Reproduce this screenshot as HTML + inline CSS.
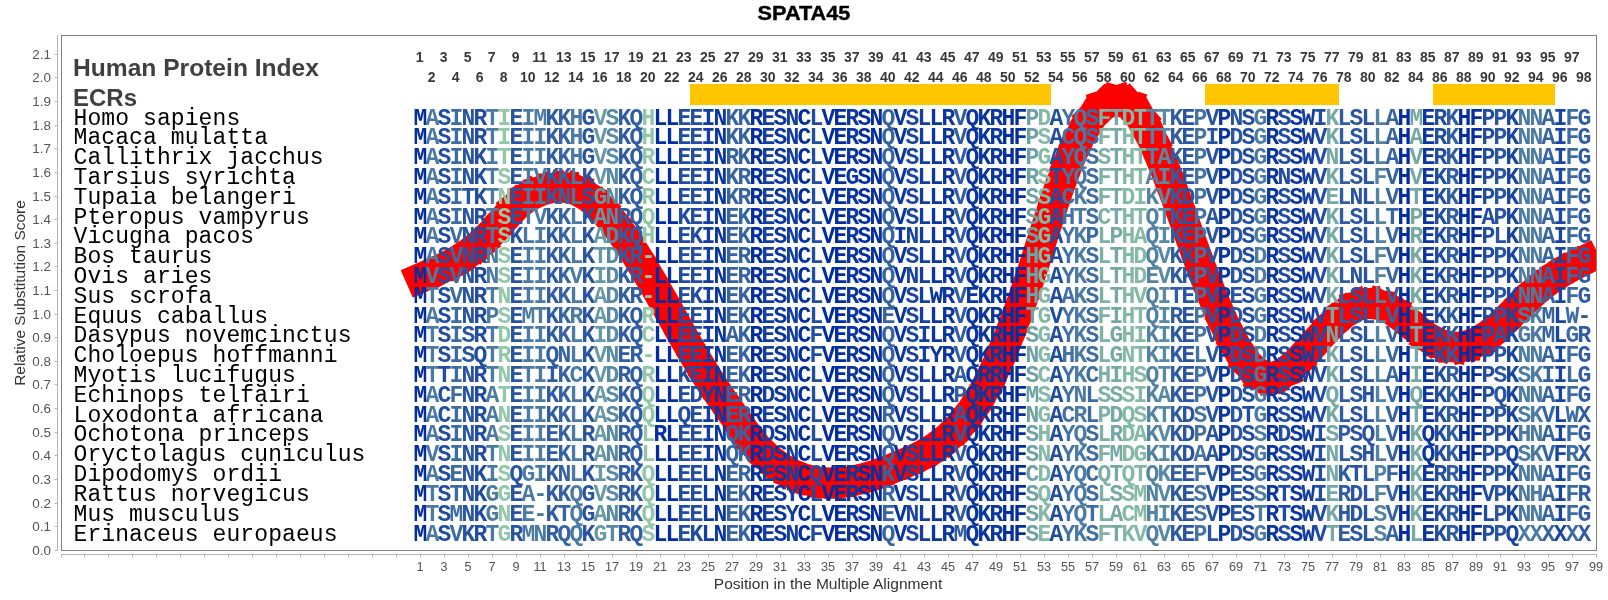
<!DOCTYPE html>
<html><head><meta charset="utf-8"><title>SPATA45</title>
<style>
html,body{margin:0;padding:0;background:#fff}
body{width:1608px;height:600px;position:relative;overflow:hidden;font-family:"Liberation Sans",sans-serif}
.a{position:absolute;white-space:pre}
#L{position:absolute;left:0;top:0;width:1608px;height:600px;will-change:transform}
#title{left:703.5px;width:200px;text-align:center;top:1px;font-weight:bold;font-size:20px;line-height:24px;color:#000;transform:scaleX(1.085);-webkit-text-stroke:0.4px #000}
.yt{left:20.5px;width:30px;text-align:right;font-size:12px;line-height:14px;color:#555;transform-origin:100% 50%;transform:scaleX(1.12)}
.xt{width:24px;text-align:center;font-size:12px;line-height:14px;color:#555;top:559.5px;transform:scaleX(1.06)}
.n{width:24px;text-align:center;font-size:14px;font-weight:bold;line-height:14px;color:#383838}
.sp{left:73.5px;font-family:"Liberation Mono",monospace;font-size:23px;line-height:20px;color:#000;letter-spacing:0.1px}
.c{width:12px;text-align:center;font-family:"Liberation Mono",monospace;font-weight:bold;font-size:23px;line-height:20px;top:109.00px}
.c b{display:block;width:40px;margin-left:-14px;text-align:center;height:20px}
.sp b{display:block;height:20px;font-weight:normal}
.c b:nth-child(-5n+16),.sp b:nth-child(-5n+16){height:19px}
.hd{left:73px;font-weight:bold;font-size:24px;line-height:28px;color:#404040}
.ecr{background:#ffc600;top:84px;height:20.7px}
</style></head><body>

<div id="L">
<div id="title" class="a">SPATA45</div>
<div class="a" style="left:-80px;top:285px;width:200px;height:16px;text-align:center;font-size:14px;line-height:16px;color:#333;transform:rotate(-90deg) scaleX(1.105)">Relative Substitution Score</div>
<svg class="a" style="left:0;top:0" width="1608" height="600">
<path d="M57.5 35V551" stroke="#b4b4b4" fill="none"/>
<path d="M54.5 550.5H57.5M54.5 526.5H57.5M54.5 503.5H57.5M54.5 479.5H57.5M54.5 455.5H57.5M54.5 432.5H57.5M54.5 408.5H57.5M54.5 384.5H57.5M54.5 361.5H57.5M54.5 337.5H57.5M54.5 314.5H57.5M54.5 290.5H57.5M54.5 266.5H57.5M54.5 243.5H57.5M54.5 219.5H57.5M54.5 196.5H57.5M54.5 172.5H57.5M54.5 148.5H57.5M54.5 125.5H57.5M54.5 101.5H57.5M54.5 77.5H57.5M54.5 54.5H57.5" stroke="#b4b4b4" fill="none"/>
<path d="M61 554.5H1597" stroke="#b4b4b4" fill="none"/>
<path d="M61.5 554.5V557.5M84.5 554.5V557.5M108.5 554.5V557.5M132.5 554.5V557.5M156.5 554.5V557.5M180.5 554.5V557.5M204.5 554.5V557.5M228.5 554.5V557.5M252.5 554.5V557.5M276.5 554.5V557.5M300.5 554.5V557.5M324.5 554.5V557.5M348.5 554.5V557.5M372.5 554.5V557.5M396.5 554.5V557.5M420.5 554.5V557.5M444.5 554.5V557.5M468.5 554.5V557.5M492.5 554.5V557.5M516.5 554.5V557.5M540.5 554.5V557.5M564.5 554.5V557.5M588.5 554.5V557.5M612.5 554.5V557.5M636.5 554.5V557.5M660.5 554.5V557.5M684.5 554.5V557.5M708.5 554.5V557.5M732.5 554.5V557.5M756.5 554.5V557.5M780.5 554.5V557.5M804.5 554.5V557.5M828.5 554.5V557.5M852.5 554.5V557.5M876.5 554.5V557.5M900.5 554.5V557.5M924.5 554.5V557.5M948.5 554.5V557.5M972.5 554.5V557.5M996.5 554.5V557.5M1020.5 554.5V557.5M1044.5 554.5V557.5M1068.5 554.5V557.5M1092.5 554.5V557.5M1116.5 554.5V557.5M1140.5 554.5V557.5M1164.5 554.5V557.5M1188.5 554.5V557.5M1212.5 554.5V557.5M1236.5 554.5V557.5M1260.5 554.5V557.5M1284.5 554.5V557.5M1308.5 554.5V557.5M1332.5 554.5V557.5M1356.5 554.5V557.5M1380.5 554.5V557.5M1404.5 554.5V557.5M1428.5 554.5V557.5M1452.5 554.5V557.5M1476.5 554.5V557.5M1500.5 554.5V557.5M1524.5 554.5V557.5M1548.5 554.5V557.5M1572.5 554.5V557.5M1596.5 554.5V557.5" stroke="#b4b4b4" fill="none"/>
<clipPath id="cp"><rect x="61" y="35" width="1536" height="516"/></clipPath>
<path clip-path="url(#cp)" d="M420.5 278.0L432.5 272.7M432.5 272.7L444.5 267.3M444.5 267.3L456.5 261.0M456.5 261.0L468.5 253.2M468.5 253.2L480.5 243.6M480.5 243.6L492.5 231.9M492.5 231.9L504.5 218.5M504.5 218.5L516.5 205.8M516.5 205.8L528.5 196.5M528.5 196.5L540.5 191.0M540.5 191.0L552.5 188.0M552.5 188.0L564.5 187.5M564.5 187.5L576.5 190.3M576.5 190.3L588.5 197.1M588.5 197.1L600.5 207.6M600.5 207.6L612.5 221.2M612.5 221.2L624.5 237.4M624.5 237.4L636.5 255.6M636.5 255.6L648.5 275.5M648.5 275.5L660.5 296.3M660.5 296.3L672.5 317.5M672.5 317.5L684.5 338.8M684.5 338.8L696.5 359.4M696.5 359.4L708.5 378.8M708.5 378.8L720.5 396.8M720.5 396.8L732.5 413.8M732.5 413.8L744.5 430.9M744.5 430.9L756.5 446.4M756.5 446.4L768.5 458.2M768.5 458.2L780.5 467.2M780.5 467.2L792.5 474.0M792.5 474.0L804.5 478.7M804.5 478.7L816.5 481.5M816.5 481.5L828.5 482.6M828.5 482.6L840.5 482.3M840.5 482.3L852.5 480.7M852.5 480.7L864.5 477.9M864.5 477.9L876.5 474.3M876.5 474.3L888.5 469.9M888.5 469.9L900.5 465.0M900.5 465.0L912.5 459.8M912.5 459.8L924.5 453.8M924.5 453.8L936.5 446.4M936.5 446.4L948.5 437.0M948.5 437.0L960.5 424.9M960.5 424.9L972.5 409.3M972.5 409.3L984.5 389.7M984.5 389.7L996.5 365.6M996.5 365.6L1008.5 337.3M1008.5 337.3L1020.5 305.2M1020.5 305.2L1032.5 269.7M1032.5 269.7L1044.5 232.2M1044.5 232.2L1056.5 195.5M1056.5 195.5L1068.5 162.6M1068.5 162.6L1080.5 135.8M1080.5 135.8L1092.5 116.4M1092.5 116.4L1104.5 104.6M1104.5 104.6L1116.5 100.7M1116.5 100.7L1128.5 104.4M1128.5 104.4L1140.5 117.8M1140.5 117.8L1152.5 139.8M1152.5 139.8L1164.5 167.9M1164.5 167.9L1176.5 199.6M1176.5 199.6L1188.5 232.8M1188.5 232.8L1200.5 265.6M1200.5 265.6L1212.5 296.4M1212.5 296.4L1224.5 324.0M1224.5 324.0L1236.5 347.0M1236.5 347.0L1248.5 364.4M1248.5 364.4L1260.5 374.8M1260.5 374.8L1272.5 377.3M1272.5 377.3L1284.5 372.6M1284.5 372.6L1296.5 362.6M1296.5 362.6L1308.5 349.9M1308.5 349.9L1320.5 336.4M1320.5 336.4L1332.5 323.8M1332.5 323.8L1344.5 313.4M1344.5 313.4L1356.5 306.3M1356.5 306.3L1368.5 303.7M1368.5 303.7L1380.5 305.2M1380.5 305.2L1392.5 310.6M1392.5 310.6L1404.5 319.2M1404.5 319.2L1416.5 328.9M1416.5 328.9L1428.5 337.9M1428.5 337.9L1440.5 344.1M1440.5 344.1L1452.5 346.9M1452.5 346.9L1464.5 346.3M1464.5 346.3L1476.5 342.3M1476.5 342.3L1488.5 334.8M1488.5 334.8L1500.5 324.7M1500.5 324.7L1512.5 313.2M1512.5 313.2L1524.5 301.4M1524.5 301.4L1536.5 290.4M1536.5 290.4L1548.5 281.0M1548.5 281.0L1560.5 273.0M1560.5 273.0L1572.5 266.2M1572.5 266.2L1584.5 260.3" stroke="#ff0000" stroke-width="30" fill="none" stroke-linecap="square" stroke-linejoin="miter"/>
<rect x="61.5" y="35.5" width="1535" height="515" fill="none" stroke="#808080"/>
</svg>
<div class="a yt" style="top:544.0px">0.0</div>
<div class="a yt" style="top:520.0px">0.1</div>
<div class="a yt" style="top:497.0px">0.2</div>
<div class="a yt" style="top:473.0px">0.3</div>
<div class="a yt" style="top:449.0px">0.4</div>
<div class="a yt" style="top:426.0px">0.5</div>
<div class="a yt" style="top:402.0px">0.6</div>
<div class="a yt" style="top:378.0px">0.7</div>
<div class="a yt" style="top:355.0px">0.8</div>
<div class="a yt" style="top:331.0px">0.9</div>
<div class="a yt" style="top:308.0px">1.0</div>
<div class="a yt" style="top:284.0px">1.1</div>
<div class="a yt" style="top:260.0px">1.2</div>
<div class="a yt" style="top:237.0px">1.3</div>
<div class="a yt" style="top:213.0px">1.4</div>
<div class="a yt" style="top:190.0px">1.5</div>
<div class="a yt" style="top:166.0px">1.6</div>
<div class="a yt" style="top:142.0px">1.7</div>
<div class="a yt" style="top:119.0px">1.8</div>
<div class="a yt" style="top:95.0px">1.9</div>
<div class="a yt" style="top:71.0px">2.0</div>
<div class="a yt" style="top:48.0px">2.1</div>
<div class="a xt" style="left:407.5px">1</div>
<div class="a xt" style="left:431.5px">3</div>
<div class="a xt" style="left:455.5px">5</div>
<div class="a xt" style="left:479.5px">7</div>
<div class="a xt" style="left:503.5px">9</div>
<div class="a xt" style="left:527.5px">11</div>
<div class="a xt" style="left:551.5px">13</div>
<div class="a xt" style="left:575.5px">15</div>
<div class="a xt" style="left:599.5px">17</div>
<div class="a xt" style="left:623.5px">19</div>
<div class="a xt" style="left:647.5px">21</div>
<div class="a xt" style="left:671.5px">23</div>
<div class="a xt" style="left:695.5px">25</div>
<div class="a xt" style="left:719.5px">27</div>
<div class="a xt" style="left:743.5px">29</div>
<div class="a xt" style="left:767.5px">31</div>
<div class="a xt" style="left:791.5px">33</div>
<div class="a xt" style="left:815.5px">35</div>
<div class="a xt" style="left:839.5px">37</div>
<div class="a xt" style="left:863.5px">39</div>
<div class="a xt" style="left:887.5px">41</div>
<div class="a xt" style="left:911.5px">43</div>
<div class="a xt" style="left:935.5px">45</div>
<div class="a xt" style="left:959.5px">47</div>
<div class="a xt" style="left:983.5px">49</div>
<div class="a xt" style="left:1007.5px">51</div>
<div class="a xt" style="left:1031.5px">53</div>
<div class="a xt" style="left:1055.5px">55</div>
<div class="a xt" style="left:1079.5px">57</div>
<div class="a xt" style="left:1103.5px">59</div>
<div class="a xt" style="left:1127.5px">61</div>
<div class="a xt" style="left:1151.5px">63</div>
<div class="a xt" style="left:1175.5px">65</div>
<div class="a xt" style="left:1199.5px">67</div>
<div class="a xt" style="left:1223.5px">69</div>
<div class="a xt" style="left:1247.5px">71</div>
<div class="a xt" style="left:1271.5px">73</div>
<div class="a xt" style="left:1295.5px">75</div>
<div class="a xt" style="left:1319.5px">77</div>
<div class="a xt" style="left:1343.5px">79</div>
<div class="a xt" style="left:1367.5px">81</div>
<div class="a xt" style="left:1391.5px">83</div>
<div class="a xt" style="left:1415.5px">85</div>
<div class="a xt" style="left:1439.5px">87</div>
<div class="a xt" style="left:1463.5px">89</div>
<div class="a xt" style="left:1487.5px">91</div>
<div class="a xt" style="left:1511.5px">93</div>
<div class="a xt" style="left:1535.5px">95</div>
<div class="a xt" style="left:1559.5px">97</div>
<div class="a xt" style="left:1583.5px">99</div>
<div class="a" style="left:627.8px;width:400px;text-align:center;top:576px;font-size:14px;line-height:16px;color:#333;transform:scaleX(1.112)">Position in the Multiple Alignment</div>
<div class="a hd" style="top:54.2px;font-size:24.6px">Human Protein Index</div>
<div class="a hd" style="top:84.2px">ECRs</div>
<div class="a n" style="left:407.7px;top:50px">1</div>
<div class="a n" style="left:419.7px;top:70px">2</div>
<div class="a n" style="left:431.7px;top:50px">3</div>
<div class="a n" style="left:443.7px;top:70px">4</div>
<div class="a n" style="left:455.7px;top:50px">5</div>
<div class="a n" style="left:467.7px;top:70px">6</div>
<div class="a n" style="left:479.7px;top:50px">7</div>
<div class="a n" style="left:491.7px;top:70px">8</div>
<div class="a n" style="left:503.7px;top:50px">9</div>
<div class="a n" style="left:515.7px;top:70px">10</div>
<div class="a n" style="left:527.7px;top:50px">11</div>
<div class="a n" style="left:539.7px;top:70px">12</div>
<div class="a n" style="left:551.7px;top:50px">13</div>
<div class="a n" style="left:563.7px;top:70px">14</div>
<div class="a n" style="left:575.7px;top:50px">15</div>
<div class="a n" style="left:587.7px;top:70px">16</div>
<div class="a n" style="left:599.7px;top:50px">17</div>
<div class="a n" style="left:611.7px;top:70px">18</div>
<div class="a n" style="left:623.7px;top:50px">19</div>
<div class="a n" style="left:635.7px;top:70px">20</div>
<div class="a n" style="left:647.7px;top:50px">21</div>
<div class="a n" style="left:659.7px;top:70px">22</div>
<div class="a n" style="left:671.7px;top:50px">23</div>
<div class="a n" style="left:683.7px;top:70px">24</div>
<div class="a n" style="left:695.7px;top:50px">25</div>
<div class="a n" style="left:707.7px;top:70px">26</div>
<div class="a n" style="left:719.7px;top:50px">27</div>
<div class="a n" style="left:731.7px;top:70px">28</div>
<div class="a n" style="left:743.7px;top:50px">29</div>
<div class="a n" style="left:755.7px;top:70px">30</div>
<div class="a n" style="left:767.7px;top:50px">31</div>
<div class="a n" style="left:779.7px;top:70px">32</div>
<div class="a n" style="left:791.7px;top:50px">33</div>
<div class="a n" style="left:803.7px;top:70px">34</div>
<div class="a n" style="left:815.7px;top:50px">35</div>
<div class="a n" style="left:827.7px;top:70px">36</div>
<div class="a n" style="left:839.7px;top:50px">37</div>
<div class="a n" style="left:851.7px;top:70px">38</div>
<div class="a n" style="left:863.7px;top:50px">39</div>
<div class="a n" style="left:875.7px;top:70px">40</div>
<div class="a n" style="left:887.7px;top:50px">41</div>
<div class="a n" style="left:899.7px;top:70px">42</div>
<div class="a n" style="left:911.7px;top:50px">43</div>
<div class="a n" style="left:923.7px;top:70px">44</div>
<div class="a n" style="left:935.7px;top:50px">45</div>
<div class="a n" style="left:947.7px;top:70px">46</div>
<div class="a n" style="left:959.7px;top:50px">47</div>
<div class="a n" style="left:971.7px;top:70px">48</div>
<div class="a n" style="left:983.7px;top:50px">49</div>
<div class="a n" style="left:995.7px;top:70px">50</div>
<div class="a n" style="left:1007.7px;top:50px">51</div>
<div class="a n" style="left:1019.7px;top:70px">52</div>
<div class="a n" style="left:1031.7px;top:50px">53</div>
<div class="a n" style="left:1043.7px;top:70px">54</div>
<div class="a n" style="left:1055.7px;top:50px">55</div>
<div class="a n" style="left:1067.7px;top:70px">56</div>
<div class="a n" style="left:1079.7px;top:50px">57</div>
<div class="a n" style="left:1091.7px;top:70px">58</div>
<div class="a n" style="left:1103.7px;top:50px">59</div>
<div class="a n" style="left:1115.7px;top:70px">60</div>
<div class="a n" style="left:1127.7px;top:50px">61</div>
<div class="a n" style="left:1139.7px;top:70px">62</div>
<div class="a n" style="left:1151.7px;top:50px">63</div>
<div class="a n" style="left:1163.7px;top:70px">64</div>
<div class="a n" style="left:1175.7px;top:50px">65</div>
<div class="a n" style="left:1187.7px;top:70px">66</div>
<div class="a n" style="left:1199.7px;top:50px">67</div>
<div class="a n" style="left:1211.7px;top:70px">68</div>
<div class="a n" style="left:1223.7px;top:50px">69</div>
<div class="a n" style="left:1235.7px;top:70px">70</div>
<div class="a n" style="left:1247.7px;top:50px">71</div>
<div class="a n" style="left:1259.7px;top:70px">72</div>
<div class="a n" style="left:1271.7px;top:50px">73</div>
<div class="a n" style="left:1283.7px;top:70px">74</div>
<div class="a n" style="left:1295.7px;top:50px">75</div>
<div class="a n" style="left:1307.7px;top:70px">76</div>
<div class="a n" style="left:1319.7px;top:50px">77</div>
<div class="a n" style="left:1331.7px;top:70px">78</div>
<div class="a n" style="left:1343.7px;top:50px">79</div>
<div class="a n" style="left:1355.7px;top:70px">80</div>
<div class="a n" style="left:1367.7px;top:50px">81</div>
<div class="a n" style="left:1379.7px;top:70px">82</div>
<div class="a n" style="left:1391.7px;top:50px">83</div>
<div class="a n" style="left:1403.7px;top:70px">84</div>
<div class="a n" style="left:1415.7px;top:50px">85</div>
<div class="a n" style="left:1427.7px;top:70px">86</div>
<div class="a n" style="left:1439.7px;top:50px">87</div>
<div class="a n" style="left:1451.7px;top:70px">88</div>
<div class="a n" style="left:1463.7px;top:50px">89</div>
<div class="a n" style="left:1475.7px;top:70px">90</div>
<div class="a n" style="left:1487.7px;top:50px">91</div>
<div class="a n" style="left:1499.7px;top:70px">92</div>
<div class="a n" style="left:1511.7px;top:50px">93</div>
<div class="a n" style="left:1523.7px;top:70px">94</div>
<div class="a n" style="left:1535.7px;top:50px">95</div>
<div class="a n" style="left:1547.7px;top:70px">96</div>
<div class="a n" style="left:1559.7px;top:50px">97</div>
<div class="a n" style="left:1571.7px;top:70px">98</div>
<div class="a ecr" style="left:690px;width:361px"></div>
<div class="a ecr" style="left:1205px;width:134px"></div>
<div class="a ecr" style="left:1433px;width:122px"></div>
<div class="a sp" style="top:109.00px"><b>Homo sapiens</b><b>Macaca mulatta</b><b>Callithrix jacchus</b><b>Tarsius syrichta</b><b>Tupaia belangeri</b><b>Pteropus vampyrus</b><b>Vicugna pacos</b><b>Bos taurus</b><b>Ovis aries</b><b>Sus scrofa</b><b>Equus caballus</b><b>Dasypus novemcinctus</b><b>Choloepus hoffmanni</b><b>Myotis lucifugus</b><b>Echinops telfairi</b><b>Loxodonta africana</b><b>Ochotona princeps</b><b>Oryctolagus cuniculus</b><b>Dipodomys ordii</b><b>Rattus norvegicus</b><b>Mus musculus</b><b>Erinaceus europaeus</b></div>
<div class="a c" style="left:414.5px;color:#042ea0"><b>M</b><b>M</b><b>M</b><b>M</b><b>M</b><b>M</b><b>M</b><b>M</b><b>M</b><b>M</b><b>M</b><b>M</b><b>M</b><b>M</b><b>M</b><b>M</b><b>M</b><b>M</b><b>M</b><b>M</b><b>M</b><b>M</b></div>
<div class="a c" style="left:426.5px;color:#4b7ba3"><b>A</b><b>A</b><b>A</b><b>A</b><b>A</b><b>A</b><b>A</b><b>A</b><b>V</b><b>T</b><b>A</b><b>T</b><b>T</b><b>T</b><b>A</b><b>A</b><b>A</b><b>V</b><b>A</b><b>T</b><b>T</b><b>A</b></div>
<div class="a c" style="left:438.5px;color:#204da1"><b>S</b><b>S</b><b>S</b><b>S</b><b>S</b><b>S</b><b>S</b><b>S</b><b>S</b><b>S</b><b>S</b><b>S</b><b>S</b><b>T</b><b>C</b><b>C</b><b>S</b><b>S</b><b>S</b><b>S</b><b>S</b><b>S</b></div>
<div class="a c" style="left:450.5px;color:#3d6ca2"><b>I</b><b>I</b><b>I</b><b>I</b><b>I</b><b>I</b><b>V</b><b>V</b><b>V</b><b>V</b><b>I</b><b>I</b><b>I</b><b>I</b><b>F</b><b>I</b><b>I</b><b>I</b><b>E</b><b>T</b><b>M</b><b>V</b></div>
<div class="a c" style="left:462.5px;color:#2854a2"><b>N</b><b>N</b><b>N</b><b>N</b><b>T</b><b>N</b><b>N</b><b>N</b><b>N</b><b>N</b><b>N</b><b>S</b><b>S</b><b>N</b><b>N</b><b>N</b><b>N</b><b>N</b><b>N</b><b>N</b><b>N</b><b>K</b></div>
<div class="a c" style="left:474.5px;color:#204da1"><b>R</b><b>R</b><b>K</b><b>K</b><b>K</b><b>R</b><b>R</b><b>R</b><b>R</b><b>R</b><b>R</b><b>R</b><b>Q</b><b>R</b><b>R</b><b>R</b><b>R</b><b>R</b><b>K</b><b>K</b><b>K</b><b>R</b></div>
<div class="a c" style="left:486.5px;color:#4b7ba3"><b>T</b><b>T</b><b>I</b><b>T</b><b>T</b><b>T</b><b>T</b><b>N</b><b>N</b><b>T</b><b>P</b><b>T</b><b>T</b><b>T</b><b>A</b><b>A</b><b>A</b><b>T</b><b>I</b><b>G</b><b>G</b><b>T</b></div>
<div class="a c" style="left:498.5px;color:#92c8a6"><b>I</b><b>I</b><b>T</b><b>S</b><b>N</b><b>S</b><b>S</b><b>S</b><b>S</b><b>N</b><b>S</b><b>D</b><b>R</b><b>N</b><b>T</b><b>N</b><b>S</b><b>N</b><b>S</b><b>G</b><b>N</b><b>G</b></div>
<div class="a c" style="left:510.5px;color:#2854a2"><b>E</b><b>E</b><b>E</b><b>E</b><b>E</b><b>E</b><b>K</b><b>E</b><b>E</b><b>E</b><b>E</b><b>E</b><b>E</b><b>E</b><b>E</b><b>E</b><b>E</b><b>E</b><b>Q</b><b>E</b><b>E</b><b>R</b></div>
<div class="a c" style="left:522.5px;color:#4b7ba3"><b>I</b><b>I</b><b>I</b><b>I</b><b>I</b><b>T</b><b>L</b><b>I</b><b>I</b><b>I</b><b>M</b><b>I</b><b>I</b><b>T</b><b>I</b><b>I</b><b>I</b><b>I</b><b>G</b><b>A</b><b>E</b><b>M</b></div>
<div class="a c" style="left:534.5px;color:#4b7ba3"><b>M</b><b>I</b><b>I</b><b>V</b><b>I</b><b>V</b><b>I</b><b>I</b><b>I</b><b>I</b><b>T</b><b>I</b><b>I</b><b>I</b><b>I</b><b>I</b><b>I</b><b>I</b><b>I</b><b>-</b><b>-</b><b>N</b></div>
<div class="a c" style="left:546.5px;color:#2f5ca2"><b>K</b><b>K</b><b>K</b><b>K</b><b>K</b><b>K</b><b>K</b><b>K</b><b>K</b><b>K</b><b>K</b><b>K</b><b>Q</b><b>I</b><b>K</b><b>K</b><b>E</b><b>E</b><b>K</b><b>K</b><b>K</b><b>R</b></div>
<div class="a c" style="left:558.5px;color:#3664a2"><b>K</b><b>K</b><b>K</b><b>K</b><b>N</b><b>K</b><b>K</b><b>K</b><b>K</b><b>K</b><b>K</b><b>K</b><b>N</b><b>K</b><b>K</b><b>K</b><b>K</b><b>K</b><b>N</b><b>K</b><b>T</b><b>Q</b></div>
<div class="a c" style="left:570.5px;color:#4b7ba3"><b>H</b><b>H</b><b>H</b><b>L</b><b>L</b><b>L</b><b>L</b><b>L</b><b>V</b><b>L</b><b>R</b><b>L</b><b>L</b><b>C</b><b>L</b><b>L</b><b>L</b><b>L</b><b>L</b><b>Q</b><b>Q</b><b>Q</b></div>
<div class="a c" style="left:582.5px;color:#2854a2"><b>G</b><b>G</b><b>G</b><b>K</b><b>S</b><b>K</b><b>K</b><b>K</b><b>K</b><b>K</b><b>K</b><b>K</b><b>K</b><b>K</b><b>K</b><b>K</b><b>R</b><b>R</b><b>K</b><b>G</b><b>G</b><b>K</b></div>
<div class="a c" style="left:594.5px;color:#679aa4"><b>V</b><b>V</b><b>V</b><b>V</b><b>G</b><b>A</b><b>A</b><b>T</b><b>I</b><b>A</b><b>A</b><b>I</b><b>V</b><b>V</b><b>A</b><b>A</b><b>A</b><b>A</b><b>I</b><b>V</b><b>A</b><b>G</b></div>
<div class="a c" style="left:606.5px;color:#598aa4"><b>S</b><b>S</b><b>S</b><b>N</b><b>N</b><b>N</b><b>D</b><b>D</b><b>D</b><b>D</b><b>D</b><b>D</b><b>N</b><b>D</b><b>S</b><b>S</b><b>N</b><b>N</b><b>S</b><b>S</b><b>N</b><b>T</b></div>
<div class="a c" style="left:618.5px;color:#2f5ca2"><b>K</b><b>K</b><b>K</b><b>K</b><b>K</b><b>R</b><b>K</b><b>K</b><b>K</b><b>K</b><b>K</b><b>K</b><b>E</b><b>R</b><b>K</b><b>K</b><b>R</b><b>R</b><b>R</b><b>R</b><b>R</b><b>R</b></div>
<div class="a c" style="left:630.5px;color:#2f5ca2"><b>Q</b><b>Q</b><b>Q</b><b>Q</b><b>Q</b><b>Q</b><b>Q</b><b>R</b><b>R</b><b>R</b><b>Q</b><b>Q</b><b>R</b><b>Q</b><b>Q</b><b>Q</b><b>Q</b><b>Q</b><b>K</b><b>K</b><b>K</b><b>Q</b></div>
<div class="a c" style="left:642.5px;color:#92c8a6"><b>H</b><b>H</b><b>R</b><b>C</b><b>R</b><b>Q</b><b>H</b><b>-</b><b>-</b><b>-</b><b>R</b><b>C</b><b>-</b><b>R</b><b>Q</b><b>Q</b><b>L</b><b>L</b><b>Q</b><b>Q</b><b>Q</b><b>S</b></div>
<div class="a c" style="left:654.5px;color:#042ea0"><b>L</b><b>L</b><b>L</b><b>L</b><b>L</b><b>L</b><b>L</b><b>L</b><b>L</b><b>L</b><b>L</b><b>L</b><b>L</b><b>L</b><b>L</b><b>L</b><b>R</b><b>L</b><b>L</b><b>L</b><b>L</b><b>L</b></div>
<div class="a c" style="left:666.5px;color:#042ea0"><b>L</b><b>L</b><b>L</b><b>L</b><b>L</b><b>L</b><b>L</b><b>L</b><b>L</b><b>L</b><b>L</b><b>L</b><b>L</b><b>L</b><b>L</b><b>L</b><b>L</b><b>L</b><b>L</b><b>L</b><b>L</b><b>L</b></div>
<div class="a c" style="left:678.5px;color:#204da1"><b>E</b><b>E</b><b>E</b><b>E</b><b>E</b><b>K</b><b>E</b><b>E</b><b>E</b><b>E</b><b>E</b><b>E</b><b>E</b><b>K</b><b>E</b><b>Q</b><b>E</b><b>E</b><b>E</b><b>E</b><b>E</b><b>E</b></div>
<div class="a c" style="left:690.5px;color:#204da1"><b>E</b><b>E</b><b>E</b><b>E</b><b>E</b><b>E</b><b>K</b><b>E</b><b>E</b><b>K</b><b>E</b><b>E</b><b>E</b><b>E</b><b>D</b><b>E</b><b>E</b><b>E</b><b>E</b><b>E</b><b>E</b><b>K</b></div>
<div class="a c" style="left:702.5px;color:#123da1"><b>I</b><b>I</b><b>I</b><b>I</b><b>I</b><b>I</b><b>I</b><b>I</b><b>I</b><b>I</b><b>I</b><b>I</b><b>I</b><b>I</b><b>Y</b><b>I</b><b>I</b><b>I</b><b>L</b><b>L</b><b>L</b><b>L</b></div>
<div class="a c" style="left:714.5px;color:#0b36a0"><b>N</b><b>N</b><b>N</b><b>N</b><b>N</b><b>N</b><b>N</b><b>N</b><b>N</b><b>N</b><b>N</b><b>N</b><b>N</b><b>N</b><b>N</b><b>N</b><b>N</b><b>N</b><b>N</b><b>N</b><b>N</b><b>N</b></div>
<div class="a c" style="left:726.5px;color:#3664a2"><b>K</b><b>K</b><b>R</b><b>K</b><b>K</b><b>E</b><b>E</b><b>E</b><b>E</b><b>E</b><b>E</b><b>A</b><b>E</b><b>E</b><b>E</b><b>E</b><b>Q</b><b>Q</b><b>E</b><b>E</b><b>E</b><b>E</b></div>
<div class="a c" style="left:738.5px;color:#3664a2"><b>K</b><b>K</b><b>K</b><b>R</b><b>R</b><b>K</b><b>K</b><b>R</b><b>R</b><b>K</b><b>K</b><b>K</b><b>K</b><b>K</b><b>R</b><b>R</b><b>K</b><b>K</b><b>R</b><b>K</b><b>K</b><b>K</b></div>
<div class="a c" style="left:750.5px;color:#042ea0"><b>R</b><b>R</b><b>R</b><b>R</b><b>R</b><b>R</b><b>R</b><b>R</b><b>R</b><b>R</b><b>R</b><b>R</b><b>R</b><b>R</b><b>R</b><b>R</b><b>R</b><b>R</b><b>R</b><b>R</b><b>R</b><b>R</b></div>
<div class="a c" style="left:762.5px;color:#123da1"><b>E</b><b>E</b><b>E</b><b>E</b><b>E</b><b>E</b><b>E</b><b>E</b><b>E</b><b>E</b><b>E</b><b>E</b><b>E</b><b>E</b><b>D</b><b>E</b><b>D</b><b>D</b><b>E</b><b>E</b><b>E</b><b>E</b></div>
<div class="a c" style="left:774.5px;color:#0b36a0"><b>S</b><b>S</b><b>S</b><b>S</b><b>S</b><b>S</b><b>S</b><b>S</b><b>S</b><b>S</b><b>S</b><b>S</b><b>S</b><b>S</b><b>S</b><b>S</b><b>S</b><b>S</b><b>S</b><b>S</b><b>S</b><b>S</b></div>
<div class="a c" style="left:786.5px;color:#123da1"><b>N</b><b>N</b><b>N</b><b>N</b><b>N</b><b>N</b><b>N</b><b>N</b><b>N</b><b>N</b><b>N</b><b>N</b><b>N</b><b>N</b><b>N</b><b>N</b><b>N</b><b>N</b><b>N</b><b>Y</b><b>Y</b><b>N</b></div>
<div class="a c" style="left:798.5px;color:#042ea0"><b>C</b><b>C</b><b>C</b><b>C</b><b>C</b><b>C</b><b>C</b><b>C</b><b>C</b><b>C</b><b>C</b><b>C</b><b>C</b><b>C</b><b>C</b><b>C</b><b>C</b><b>C</b><b>C</b><b>C</b><b>C</b><b>C</b></div>
<div class="a c" style="left:810.5px;color:#204da1"><b>L</b><b>L</b><b>L</b><b>L</b><b>L</b><b>L</b><b>L</b><b>L</b><b>L</b><b>L</b><b>L</b><b>F</b><b>F</b><b>L</b><b>L</b><b>L</b><b>L</b><b>L</b><b>Q</b><b>L</b><b>L</b><b>F</b></div>
<div class="a c" style="left:822.5px;color:#042ea0"><b>V</b><b>V</b><b>V</b><b>V</b><b>V</b><b>V</b><b>V</b><b>V</b><b>V</b><b>V</b><b>V</b><b>V</b><b>V</b><b>V</b><b>V</b><b>V</b><b>V</b><b>V</b><b>V</b><b>V</b><b>V</b><b>V</b></div>
<div class="a c" style="left:834.5px;color:#042ea0"><b>E</b><b>E</b><b>E</b><b>E</b><b>E</b><b>E</b><b>E</b><b>E</b><b>E</b><b>E</b><b>E</b><b>E</b><b>E</b><b>E</b><b>E</b><b>E</b><b>E</b><b>E</b><b>E</b><b>E</b><b>E</b><b>E</b></div>
<div class="a c" style="left:846.5px;color:#0b36a0"><b>R</b><b>R</b><b>R</b><b>G</b><b>R</b><b>R</b><b>R</b><b>R</b><b>R</b><b>R</b><b>R</b><b>R</b><b>R</b><b>R</b><b>R</b><b>R</b><b>R</b><b>R</b><b>R</b><b>R</b><b>R</b><b>R</b></div>
<div class="a c" style="left:858.5px;color:#042ea0"><b>S</b><b>S</b><b>S</b><b>S</b><b>S</b><b>S</b><b>S</b><b>S</b><b>S</b><b>S</b><b>S</b><b>S</b><b>S</b><b>S</b><b>S</b><b>S</b><b>S</b><b>S</b><b>S</b><b>S</b><b>S</b><b>S</b></div>
<div class="a c" style="left:870.5px;color:#042ea0"><b>N</b><b>N</b><b>N</b><b>N</b><b>N</b><b>N</b><b>N</b><b>N</b><b>N</b><b>N</b><b>N</b><b>N</b><b>N</b><b>N</b><b>N</b><b>N</b><b>N</b><b>N</b><b>N</b><b>N</b><b>N</b><b>N</b></div>
<div class="a c" style="left:882.5px;color:#3664a2"><b>Q</b><b>Q</b><b>Q</b><b>Q</b><b>Q</b><b>Q</b><b>Q</b><b>Q</b><b>Q</b><b>Q</b><b>E</b><b>Q</b><b>Q</b><b>Q</b><b>Q</b><b>R</b><b>Q</b><b>Q</b><b>K</b><b>R</b><b>E</b><b>Q</b></div>
<div class="a c" style="left:894.5px;color:#0b36a0"><b>V</b><b>V</b><b>V</b><b>V</b><b>V</b><b>V</b><b>I</b><b>V</b><b>V</b><b>V</b><b>V</b><b>V</b><b>V</b><b>V</b><b>V</b><b>V</b><b>V</b><b>V</b><b>V</b><b>V</b><b>V</b><b>V</b></div>
<div class="a c" style="left:906.5px;color:#1945a1"><b>S</b><b>S</b><b>S</b><b>S</b><b>S</b><b>S</b><b>N</b><b>S</b><b>N</b><b>S</b><b>S</b><b>S</b><b>S</b><b>S</b><b>S</b><b>S</b><b>S</b><b>S</b><b>S</b><b>S</b><b>N</b><b>S</b></div>
<div class="a c" style="left:918.5px;color:#123da1"><b>L</b><b>L</b><b>L</b><b>L</b><b>L</b><b>L</b><b>L</b><b>L</b><b>L</b><b>L</b><b>L</b><b>I</b><b>I</b><b>L</b><b>L</b><b>L</b><b>L</b><b>L</b><b>L</b><b>L</b><b>L</b><b>L</b></div>
<div class="a c" style="left:930.5px;color:#0b36a0"><b>L</b><b>L</b><b>L</b><b>L</b><b>L</b><b>L</b><b>L</b><b>L</b><b>L</b><b>W</b><b>L</b><b>L</b><b>Y</b><b>L</b><b>L</b><b>L</b><b>L</b><b>L</b><b>L</b><b>L</b><b>L</b><b>L</b></div>
<div class="a c" style="left:942.5px;color:#0b36a0"><b>R</b><b>R</b><b>R</b><b>R</b><b>R</b><b>R</b><b>R</b><b>R</b><b>R</b><b>R</b><b>R</b><b>R</b><b>R</b><b>R</b><b>R</b><b>R</b><b>R</b><b>R</b><b>R</b><b>R</b><b>R</b><b>R</b></div>
<div class="a c" style="left:954.5px;color:#2f5ca2"><b>V</b><b>V</b><b>V</b><b>V</b><b>V</b><b>V</b><b>V</b><b>V</b><b>V</b><b>V</b><b>V</b><b>V</b><b>V</b><b>A</b><b>P</b><b>A</b><b>V</b><b>V</b><b>V</b><b>V</b><b>V</b><b>M</b></div>
<div class="a c" style="left:966.5px;color:#0b36a0"><b>Q</b><b>Q</b><b>Q</b><b>Q</b><b>Q</b><b>Q</b><b>Q</b><b>Q</b><b>Q</b><b>E</b><b>Q</b><b>Q</b><b>Q</b><b>Q</b><b>Q</b><b>Q</b><b>Q</b><b>Q</b><b>Q</b><b>Q</b><b>Q</b><b>Q</b></div>
<div class="a c" style="left:978.5px;color:#0b36a0"><b>K</b><b>K</b><b>K</b><b>K</b><b>K</b><b>K</b><b>K</b><b>K</b><b>K</b><b>K</b><b>K</b><b>K</b><b>K</b><b>R</b><b>K</b><b>K</b><b>K</b><b>K</b><b>K</b><b>K</b><b>K</b><b>K</b></div>
<div class="a c" style="left:990.5px;color:#0b36a0"><b>R</b><b>R</b><b>R</b><b>R</b><b>R</b><b>R</b><b>R</b><b>R</b><b>R</b><b>R</b><b>R</b><b>R</b><b>R</b><b>R</b><b>R</b><b>R</b><b>R</b><b>R</b><b>R</b><b>R</b><b>R</b><b>R</b></div>
<div class="a c" style="left:1002.5px;color:#042ea0"><b>H</b><b>H</b><b>H</b><b>H</b><b>H</b><b>H</b><b>H</b><b>H</b><b>H</b><b>H</b><b>H</b><b>H</b><b>H</b><b>H</b><b>H</b><b>H</b><b>H</b><b>H</b><b>H</b><b>H</b><b>H</b><b>H</b></div>
<div class="a c" style="left:1014.5px;color:#042ea0"><b>F</b><b>F</b><b>F</b><b>F</b><b>F</b><b>F</b><b>F</b><b>F</b><b>F</b><b>F</b><b>F</b><b>F</b><b>F</b><b>F</b><b>F</b><b>F</b><b>F</b><b>F</b><b>F</b><b>F</b><b>F</b><b>F</b></div>
<div class="a c" style="left:1026.5px;color:#6ea2a4"><b>P</b><b>P</b><b>P</b><b>R</b><b>S</b><b>S</b><b>S</b><b>H</b><b>H</b><b>H</b><b>T</b><b>S</b><b>N</b><b>S</b><b>M</b><b>N</b><b>S</b><b>S</b><b>C</b><b>S</b><b>S</b><b>S</b></div>
<div class="a c" style="left:1038.5px;color:#84b9a5"><b>D</b><b>S</b><b>G</b><b>S</b><b>S</b><b>G</b><b>G</b><b>G</b><b>G</b><b>G</b><b>G</b><b>G</b><b>G</b><b>C</b><b>S</b><b>G</b><b>H</b><b>N</b><b>D</b><b>Q</b><b>K</b><b>E</b></div>
<div class="a c" style="left:1050.5px;color:#204da1"><b>A</b><b>A</b><b>A</b><b>T</b><b>A</b><b>A</b><b>A</b><b>A</b><b>A</b><b>A</b><b>V</b><b>A</b><b>A</b><b>A</b><b>A</b><b>A</b><b>A</b><b>A</b><b>A</b><b>A</b><b>A</b><b>A</b></div>
<div class="a c" style="left:1062.5px;color:#4473a3"><b>Y</b><b>C</b><b>Y</b><b>Y</b><b>C</b><b>H</b><b>Y</b><b>Y</b><b>Y</b><b>A</b><b>Y</b><b>Y</b><b>H</b><b>Y</b><b>Y</b><b>C</b><b>Y</b><b>Y</b><b>Y</b><b>Y</b><b>Y</b><b>Y</b></div>
<div class="a c" style="left:1074.5px;color:#4b7ba3"><b>Q</b><b>Q</b><b>Q</b><b>Q</b><b>K</b><b>T</b><b>K</b><b>K</b><b>K</b><b>K</b><b>K</b><b>K</b><b>K</b><b>K</b><b>N</b><b>R</b><b>Q</b><b>K</b><b>Q</b><b>Q</b><b>Q</b><b>K</b></div>
<div class="a c" style="left:1086.5px;color:#3d6ca2"><b>S</b><b>S</b><b>S</b><b>S</b><b>S</b><b>S</b><b>P</b><b>S</b><b>S</b><b>S</b><b>S</b><b>S</b><b>S</b><b>C</b><b>L</b><b>L</b><b>S</b><b>S</b><b>C</b><b>S</b><b>T</b><b>S</b></div>
<div class="a c" style="left:1098.5px;color:#7db1a5"><b>F</b><b>F</b><b>S</b><b>F</b><b>F</b><b>C</b><b>L</b><b>L</b><b>L</b><b>L</b><b>F</b><b>L</b><b>L</b><b>H</b><b>S</b><b>P</b><b>L</b><b>F</b><b>Q</b><b>L</b><b>L</b><b>F</b></div>
<div class="a c" style="left:1110.5px;color:#76a9a5"><b>T</b><b>T</b><b>T</b><b>T</b><b>T</b><b>T</b><b>P</b><b>T</b><b>T</b><b>T</b><b>I</b><b>G</b><b>G</b><b>I</b><b>S</b><b>D</b><b>R</b><b>M</b><b>T</b><b>S</b><b>A</b><b>T</b></div>
<div class="a c" style="left:1122.5px;color:#84b9a5"><b>D</b><b>H</b><b>H</b><b>H</b><b>D</b><b>H</b><b>H</b><b>H</b><b>H</b><b>H</b><b>H</b><b>H</b><b>N</b><b>H</b><b>S</b><b>Q</b><b>D</b><b>D</b><b>Q</b><b>S</b><b>C</b><b>K</b></div>
<div class="a c" style="left:1134.5px;color:#84b9a5"><b>T</b><b>T</b><b>T</b><b>T</b><b>I</b><b>T</b><b>A</b><b>D</b><b>D</b><b>V</b><b>T</b><b>I</b><b>T</b><b>S</b><b>I</b><b>S</b><b>A</b><b>G</b><b>T</b><b>M</b><b>M</b><b>V</b></div>
<div class="a c" style="left:1146.5px;color:#5283a3"><b>T</b><b>T</b><b>T</b><b>A</b><b>K</b><b>Q</b><b>Q</b><b>Q</b><b>E</b><b>Q</b><b>Q</b><b>K</b><b>K</b><b>Q</b><b>K</b><b>K</b><b>K</b><b>K</b><b>Q</b><b>N</b><b>H</b><b>Q</b></div>
<div class="a c" style="left:1158.5px;color:#598aa4"><b>T</b><b>T</b><b>A</b><b>I</b><b>V</b><b>T</b><b>I</b><b>V</b><b>V</b><b>I</b><b>I</b><b>I</b><b>I</b><b>T</b><b>A</b><b>T</b><b>V</b><b>I</b><b>K</b><b>V</b><b>I</b><b>V</b></div>
<div class="a c" style="left:1170.5px;color:#2f5ca2"><b>K</b><b>K</b><b>K</b><b>K</b><b>K</b><b>K</b><b>K</b><b>K</b><b>K</b><b>T</b><b>R</b><b>K</b><b>K</b><b>K</b><b>K</b><b>K</b><b>K</b><b>K</b><b>E</b><b>K</b><b>K</b><b>K</b></div>
<div class="a c" style="left:1182.5px;color:#2854a2"><b>E</b><b>E</b><b>E</b><b>E</b><b>D</b><b>E</b><b>E</b><b>K</b><b>K</b><b>E</b><b>E</b><b>E</b><b>E</b><b>E</b><b>E</b><b>D</b><b>D</b><b>D</b><b>E</b><b>E</b><b>E</b><b>E</b></div>
<div class="a c" style="left:1194.5px;color:#4473a3"><b>P</b><b>P</b><b>P</b><b>P</b><b>P</b><b>P</b><b>P</b><b>P</b><b>P</b><b>P</b><b>P</b><b>P</b><b>L</b><b>P</b><b>P</b><b>S</b><b>P</b><b>A</b><b>F</b><b>S</b><b>S</b><b>P</b></div>
<div class="a c" style="left:1206.5px;color:#2854a2"><b>V</b><b>I</b><b>V</b><b>V</b><b>V</b><b>A</b><b>V</b><b>V</b><b>V</b><b>V</b><b>V</b><b>V</b><b>V</b><b>V</b><b>V</b><b>V</b><b>A</b><b>A</b><b>V</b><b>V</b><b>V</b><b>L</b></div>
<div class="a c" style="left:1218.5px;color:#0b36a0"><b>P</b><b>P</b><b>P</b><b>P</b><b>P</b><b>P</b><b>P</b><b>P</b><b>P</b><b>P</b><b>P</b><b>P</b><b>P</b><b>P</b><b>P</b><b>P</b><b>P</b><b>P</b><b>P</b><b>P</b><b>P</b><b>P</b></div>
<div class="a c" style="left:1230.5px;color:#2854a2"><b>N</b><b>D</b><b>D</b><b>D</b><b>D</b><b>D</b><b>D</b><b>D</b><b>D</b><b>E</b><b>D</b><b>D</b><b>D</b><b>D</b><b>D</b><b>D</b><b>D</b><b>D</b><b>E</b><b>E</b><b>E</b><b>D</b></div>
<div class="a c" style="left:1242.5px;color:#204da1"><b>S</b><b>S</b><b>S</b><b>S</b><b>S</b><b>S</b><b>S</b><b>S</b><b>S</b><b>S</b><b>S</b><b>S</b><b>S</b><b>S</b><b>S</b><b>T</b><b>S</b><b>S</b><b>S</b><b>S</b><b>S</b><b>S</b></div>
<div class="a c" style="left:1254.5px;color:#4b7ba3"><b>G</b><b>G</b><b>G</b><b>G</b><b>G</b><b>G</b><b>G</b><b>D</b><b>D</b><b>G</b><b>G</b><b>D</b><b>D</b><b>G</b><b>G</b><b>G</b><b>S</b><b>G</b><b>G</b><b>S</b><b>T</b><b>G</b></div>
<div class="a c" style="left:1266.5px;color:#0b36a0"><b>R</b><b>R</b><b>R</b><b>R</b><b>R</b><b>R</b><b>R</b><b>R</b><b>R</b><b>R</b><b>R</b><b>R</b><b>R</b><b>R</b><b>R</b><b>R</b><b>R</b><b>R</b><b>R</b><b>R</b><b>R</b><b>R</b></div>
<div class="a c" style="left:1278.5px;color:#204da1"><b>S</b><b>S</b><b>S</b><b>N</b><b>S</b><b>S</b><b>S</b><b>S</b><b>S</b><b>S</b><b>S</b><b>S</b><b>S</b><b>S</b><b>S</b><b>S</b><b>D</b><b>S</b><b>S</b><b>T</b><b>T</b><b>S</b></div>
<div class="a c" style="left:1290.5px;color:#0b36a0"><b>S</b><b>S</b><b>S</b><b>S</b><b>S</b><b>S</b><b>S</b><b>S</b><b>S</b><b>S</b><b>S</b><b>S</b><b>S</b><b>S</b><b>S</b><b>S</b><b>S</b><b>S</b><b>S</b><b>S</b><b>S</b><b>S</b></div>
<div class="a c" style="left:1302.5px;color:#123da1"><b>W</b><b>W</b><b>W</b><b>W</b><b>W</b><b>W</b><b>W</b><b>W</b><b>W</b><b>W</b><b>W</b><b>W</b><b>W</b><b>W</b><b>W</b><b>W</b><b>W</b><b>W</b><b>W</b><b>W</b><b>W</b><b>W</b></div>
<div class="a c" style="left:1314.5px;color:#204da1"><b>I</b><b>V</b><b>V</b><b>V</b><b>V</b><b>V</b><b>V</b><b>V</b><b>V</b><b>V</b><b>V</b><b>V</b><b>I</b><b>V</b><b>V</b><b>V</b><b>I</b><b>I</b><b>I</b><b>I</b><b>V</b><b>V</b></div>
<div class="a c" style="left:1326.5px;color:#76a9a5"><b>K</b><b>K</b><b>N</b><b>K</b><b>E</b><b>K</b><b>K</b><b>K</b><b>K</b><b>K</b><b>T</b><b>N</b><b>K</b><b>K</b><b>Q</b><b>K</b><b>S</b><b>N</b><b>N</b><b>E</b><b>K</b><b>T</b></div>
<div class="a c" style="left:1338.5px;color:#2f5ca2"><b>L</b><b>L</b><b>L</b><b>L</b><b>L</b><b>L</b><b>L</b><b>L</b><b>L</b><b>L</b><b>L</b><b>L</b><b>L</b><b>L</b><b>L</b><b>L</b><b>P</b><b>L</b><b>K</b><b>R</b><b>H</b><b>E</b></div>
<div class="a c" style="left:1350.5px;color:#2854a2"><b>S</b><b>S</b><b>S</b><b>S</b><b>N</b><b>S</b><b>S</b><b>S</b><b>N</b><b>S</b><b>S</b><b>S</b><b>S</b><b>S</b><b>S</b><b>S</b><b>S</b><b>S</b><b>T</b><b>D</b><b>D</b><b>S</b></div>
<div class="a c" style="left:1362.5px;color:#2854a2"><b>L</b><b>L</b><b>L</b><b>L</b><b>L</b><b>L</b><b>L</b><b>L</b><b>L</b><b>L</b><b>L</b><b>L</b><b>L</b><b>L</b><b>H</b><b>L</b><b>Q</b><b>H</b><b>L</b><b>L</b><b>L</b><b>L</b></div>
<div class="a c" style="left:1374.5px;color:#5283a3"><b>L</b><b>L</b><b>L</b><b>F</b><b>L</b><b>L</b><b>L</b><b>F</b><b>F</b><b>L</b><b>L</b><b>L</b><b>L</b><b>L</b><b>L</b><b>L</b><b>L</b><b>L</b><b>P</b><b>F</b><b>S</b><b>S</b></div>
<div class="a c" style="left:1386.5px;color:#3664a2"><b>A</b><b>A</b><b>A</b><b>V</b><b>V</b><b>T</b><b>V</b><b>V</b><b>V</b><b>V</b><b>V</b><b>V</b><b>V</b><b>A</b><b>V</b><b>V</b><b>V</b><b>V</b><b>F</b><b>V</b><b>V</b><b>A</b></div>
<div class="a c" style="left:1398.5px;color:#042ea0"><b>H</b><b>H</b><b>H</b><b>H</b><b>H</b><b>H</b><b>H</b><b>H</b><b>H</b><b>H</b><b>H</b><b>H</b><b>H</b><b>H</b><b>H</b><b>H</b><b>H</b><b>H</b><b>H</b><b>H</b><b>H</b><b>H</b></div>
<div class="a c" style="left:1410.5px;color:#76a9a5"><b>M</b><b>A</b><b>V</b><b>V</b><b>T</b><b>P</b><b>R</b><b>K</b><b>K</b><b>K</b><b>T</b><b>T</b><b>T</b><b>I</b><b>Q</b><b>T</b><b>K</b><b>K</b><b>K</b><b>K</b><b>K</b><b>L</b></div>
<div class="a c" style="left:1422.5px;color:#0b36a0"><b>E</b><b>E</b><b>E</b><b>E</b><b>E</b><b>E</b><b>E</b><b>E</b><b>E</b><b>E</b><b>E</b><b>E</b><b>E</b><b>E</b><b>E</b><b>E</b><b>Q</b><b>Q</b><b>E</b><b>E</b><b>E</b><b>E</b></div>
<div class="a c" style="left:1434.5px;color:#204da1"><b>R</b><b>R</b><b>R</b><b>K</b><b>K</b><b>K</b><b>K</b><b>K</b><b>K</b><b>K</b><b>K</b><b>K</b><b>K</b><b>K</b><b>K</b><b>K</b><b>K</b><b>K</b><b>R</b><b>K</b><b>K</b><b>K</b></div>
<div class="a c" style="left:1446.5px;color:#2f5ca2"><b>K</b><b>K</b><b>K</b><b>R</b><b>K</b><b>R</b><b>R</b><b>R</b><b>R</b><b>R</b><b>K</b><b>K</b><b>K</b><b>R</b><b>K</b><b>R</b><b>K</b><b>K</b><b>R</b><b>R</b><b>R</b><b>R</b></div>
<div class="a c" style="left:1458.5px;color:#042ea0"><b>H</b><b>H</b><b>H</b><b>H</b><b>H</b><b>H</b><b>H</b><b>H</b><b>H</b><b>H</b><b>H</b><b>H</b><b>H</b><b>H</b><b>H</b><b>H</b><b>H</b><b>H</b><b>H</b><b>H</b><b>H</b><b>H</b></div>
<div class="a c" style="left:1470.5px;color:#042ea0"><b>F</b><b>F</b><b>F</b><b>F</b><b>F</b><b>F</b><b>F</b><b>F</b><b>F</b><b>F</b><b>F</b><b>F</b><b>F</b><b>F</b><b>F</b><b>F</b><b>F</b><b>F</b><b>F</b><b>F</b><b>F</b><b>F</b></div>
<div class="a c" style="left:1482.5px;color:#204da1"><b>P</b><b>P</b><b>P</b><b>P</b><b>P</b><b>A</b><b>P</b><b>P</b><b>P</b><b>P</b><b>P</b><b>P</b><b>P</b><b>P</b><b>P</b><b>P</b><b>P</b><b>P</b><b>P</b><b>V</b><b>L</b><b>P</b></div>
<div class="a c" style="left:1494.5px;color:#2854a2"><b>P</b><b>P</b><b>P</b><b>P</b><b>P</b><b>P</b><b>L</b><b>P</b><b>P</b><b>P</b><b>P</b><b>A</b><b>P</b><b>S</b><b>Q</b><b>P</b><b>P</b><b>P</b><b>P</b><b>P</b><b>P</b><b>P</b></div>
<div class="a c" style="left:1506.5px;color:#1945a1"><b>K</b><b>K</b><b>K</b><b>K</b><b>K</b><b>K</b><b>K</b><b>K</b><b>K</b><b>K</b><b>K</b><b>K</b><b>K</b><b>K</b><b>K</b><b>K</b><b>K</b><b>Q</b><b>K</b><b>K</b><b>K</b><b>Q</b></div>
<div class="a c" style="left:1518.5px;color:#4b7ba3"><b>N</b><b>N</b><b>N</b><b>N</b><b>N</b><b>N</b><b>N</b><b>N</b><b>N</b><b>N</b><b>S</b><b>G</b><b>N</b><b>S</b><b>N</b><b>S</b><b>H</b><b>S</b><b>N</b><b>N</b><b>N</b><b>X</b></div>
<div class="a c" style="left:1530.5px;color:#4b7ba3"><b>N</b><b>N</b><b>N</b><b>N</b><b>N</b><b>N</b><b>N</b><b>N</b><b>N</b><b>N</b><b>K</b><b>K</b><b>N</b><b>K</b><b>N</b><b>K</b><b>N</b><b>K</b><b>N</b><b>H</b><b>N</b><b>X</b></div>
<div class="a c" style="left:1542.5px;color:#3664a2"><b>A</b><b>A</b><b>A</b><b>A</b><b>A</b><b>A</b><b>A</b><b>A</b><b>A</b><b>A</b><b>M</b><b>M</b><b>A</b><b>I</b><b>A</b><b>V</b><b>A</b><b>V</b><b>A</b><b>A</b><b>A</b><b>X</b></div>
<div class="a c" style="left:1554.5px;color:#1945a1"><b>I</b><b>I</b><b>I</b><b>I</b><b>I</b><b>I</b><b>I</b><b>I</b><b>I</b><b>I</b><b>L</b><b>L</b><b>I</b><b>I</b><b>I</b><b>L</b><b>I</b><b>F</b><b>I</b><b>I</b><b>I</b><b>X</b></div>
<div class="a c" style="left:1566.5px;color:#3d6ca2"><b>F</b><b>F</b><b>F</b><b>F</b><b>F</b><b>F</b><b>F</b><b>F</b><b>F</b><b>F</b><b>W</b><b>G</b><b>F</b><b>L</b><b>F</b><b>W</b><b>F</b><b>R</b><b>F</b><b>F</b><b>F</b><b>X</b></div>
<div class="a c" style="left:1578.5px;color:#2f5ca2"><b>G</b><b>G</b><b>G</b><b>G</b><b>G</b><b>G</b><b>G</b><b>G</b><b>G</b><b>G</b><b>-</b><b>R</b><b>G</b><b>G</b><b>G</b><b>X</b><b>G</b><b>X</b><b>G</b><b>R</b><b>G</b><b>X</b></div>
</div>
</body></html>
